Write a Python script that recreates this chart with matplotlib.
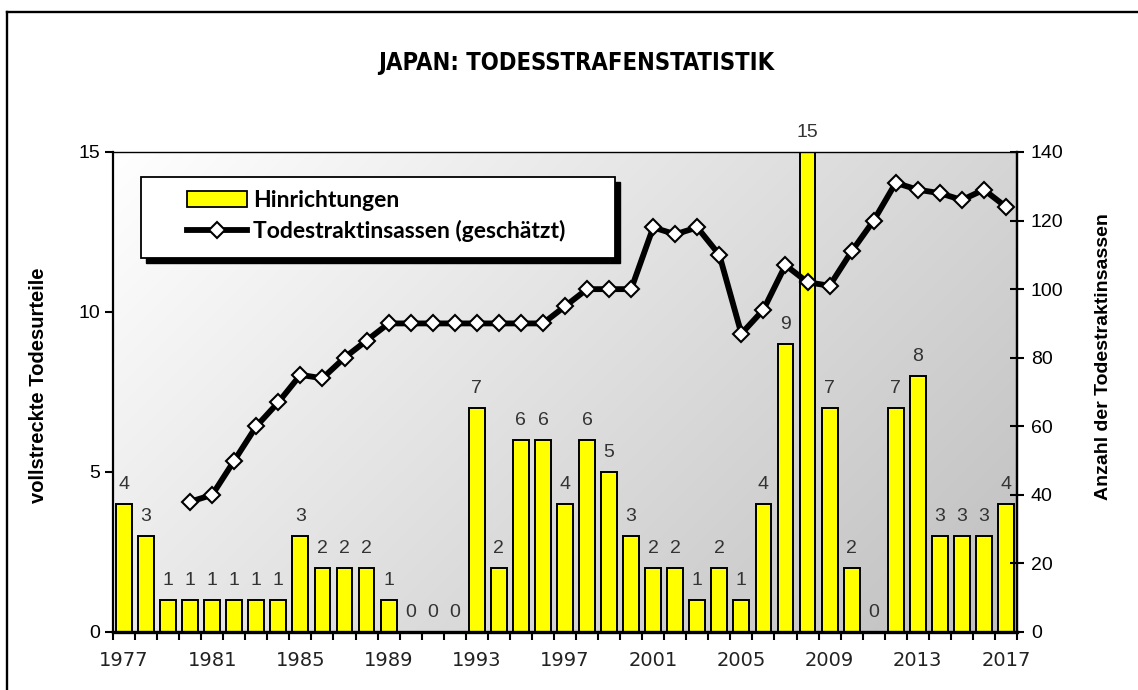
import numpy as np
import matplotlib
matplotlib.use("Agg")
import matplotlib.pyplot as plt
from matplotlib.patches import Rectangle, Patch
from matplotlib.lines import Line2D

years = list(range(1977, 2018))
executions = [4, 3, 1, 1, 1, 1, 1, 1, 3, 2, 2, 2, 1, 0, 0, 0, 7, 2, 6, 6, 4, 6, 5, 3,
              2, 2, 1, 2, 1, 4, 9, 15, 7, 2, 0, 7, 8, 3, 3, 3, 4]
inmate_years = list(range(1980, 2018))
inmates = [38, 40, 50, 60, 67, 75, 74, 80, 85, 90, 90, 90, 90, 90, 90, 90, 90, 95, 100,
           100, 100, 118, 116, 118, 110, 87, 94, 107, 102, 101, 111, 120, 131, 129, 128,
           126, 129, 124]
xtick_years = list(range(1977, 2018, 4))
title = "JAPAN: TODESSTRAFENSTATISTIK"
left_label = "vollstreckte Todesurteile"
right_label = "Anzahl der Todestraktinsassen"
bar_name = "Hinrichtungen"
line_name = "Todestraktinsassen (geschätzt)"

W, H = 1138, 690
fig = plt.figure(figsize=(W / 100, H / 100), dpi=100)
fig.patch.set_facecolor("white")

def fx(px):
    return px / W

def fy(py):
    return 1 - py / H

ax = fig.add_axes([fx(113), fy(632), fx(1017) - fx(113), fy(152) - fy(632)])

# gradient background
nx, ny = 300, 200
xx, yy = np.meshgrid(np.linspace(0, 1, nx), np.linspace(0, 1, ny))
t = (xx * 904 + yy * 480) / (904 + 480)
g = 1.0 - 0.25 * t
img = np.dstack([g, g, g])
ax.imshow(img, extent=(0, 1, 0, 1), transform=ax.transAxes, aspect="auto",
          zorder=0, interpolation="bilinear")

bars = ax.bar(years, executions, width=0.72, color="#FFFF00", edgecolor="black",
              linewidth=1.4, zorder=2)
ax.bar_label(bars, labels=[str(v) for v in executions], padding=8,
             fontsize=14, color="#333333", family="Liberation Sans")

ax.set_xlim(1976.5, 2017.5)
ax.set_ylim(0, 15)
ax.set_yticks([0, 5, 10, 15])
ax.set_xticks([y - 0.5 for y in years] + [2017.5])
ax.set_xticklabels([])
ax.set_xticks(xtick_years, minor=True)
ax.set_xticklabels([str(y) for y in xtick_years], minor=True, fontsize=14,
                   family="DejaVu Sans", color="#222222")
ax.tick_params(axis="x", which="major", direction="out", length=6, width=1.5)
ax.tick_params(axis="x", which="minor", length=0, pad=14)
ax.tick_params(axis="y", direction="out", length=6, width=1.5, pad=3)
for lbl in ax.get_yticklabels():
    lbl.set_fontsize(14)
    lbl.set_family("Liberation Sans")
for s, lw in [("left", 1.6), ("bottom", 2.4), ("top", 1.0), ("right", 1.6)]:
    ax.spines[s].set_linewidth(lw)
    ax.spines[s].set_color("black")
ax.set_ylabel(left_label, fontsize=14.5, fontweight="bold", family="Liberation Sans")

ax2 = ax.twinx()
ax2.plot(inmate_years, inmates, color="black", lw=4.2, marker="D", ms=7.8,
         mfc="white", mec="black", mew=1.5, zorder=5, solid_joinstyle="miter")
ax2.set_ylim(0, 140)
ax2.set_yticks(range(0, 141, 20))
ax2.tick_params(axis="y", direction="inout", length=10, width=1.5, pad=5)
for lbl in ax2.get_yticklabels():
    lbl.set_fontsize(14)
    lbl.set_family("Liberation Sans")
ax2.spines["right"].set_linewidth(1.6)
for s in ["left", "top", "bottom"]:
    ax2.spines[s].set_visible(False)
ax2.set_ylabel(right_label, fontsize=14, fontweight="bold", family="Liberation Sans")

# axis label positions
ax.yaxis.set_label_coords((48 - 113) / 904, (632 - 385) / 480)
ax2.yaxis.set_label_coords((1095 - 113) / 904, (632 - 357) / 480)

# title
fig.text(fx(576), fy(63), title, ha="center", va="center", fontsize=17,
         fontweight="bold", family="DejaVu Sans", fontstretch="condensed")

# legend frame with shadow
lx0, lx1, ly0, ly1 = 141, 615, 177, 258
fig.patches.append(Rectangle((fx(lx0 + 5), fy(ly1 + 5)), fx(lx1) - fx(lx0),
                             fy(ly0) - fy(ly1), transform=fig.transFigure,
                             facecolor="black", edgecolor="black", zorder=3))
fig.patches.append(Rectangle((fx(lx0), fy(ly1)), fx(lx1) - fx(lx0),
                             fy(ly0) - fy(ly1), transform=fig.transFigure,
                             facecolor="white", edgecolor="black", lw=1.3, zorder=4))
handles = [Patch(facecolor="#FFFF00", edgecolor="black", lw=1.3),
           Line2D([], [], color="black", lw=4.2, marker="D", ms=7.8, mfc="white",
                  mec="black", mew=1.5)]
fig.legend(handles, [bar_name, line_name], loc="center left",
           bbox_to_anchor=(fx(187), fy(216)), bbox_transform=fig.transFigure,
           frameon=False, borderpad=0, borderaxespad=0, handlelength=2.6,
           handletextpad=0.3, labelspacing=0.4,
           prop={"family": "Lato", "weight": "bold", "size": 16.5})

# outer frame
fig.add_artist(Line2D([fx(7), 1.0], [fy(12), fy(12)], transform=fig.transFigure,
                      color="black", lw=1.7))
fig.add_artist(Line2D([fx(7), fx(7)], [fy(12), 0.0], transform=fig.transFigure,
                      color="black", lw=1.7))

fig.savefig("out.png", dpi=100)
